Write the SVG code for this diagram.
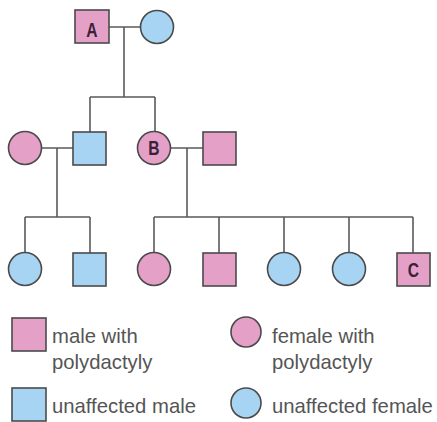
<svg xmlns="http://www.w3.org/2000/svg" width="437" height="422" viewBox="0 0 437 422">
  <style>
    .aff { fill: #e5a0c8; stroke: #4a4a4a; stroke-width: 1.6; }
    .un { fill: #a8d4f3; stroke: #4a4a4a; stroke-width: 1.6; }
    .line { fill: none; stroke: #5a5a5a; stroke-width: 1.6; }
    .tag { font-family: "Liberation Sans", Arial, sans-serif; font-weight: bold; font-size: 20px; fill: #3a2236; text-anchor: middle; }
    .key { font-family: "Liberation Sans", Arial, sans-serif; font-size: 20.3px; fill: #555555; }
  </style>
  <rect width="437" height="422" fill="#ffffff"/>

  <!-- family connectors -->
  <g id="connectors">
    <!-- generation I marriage and descent -->
    <path class="line" d="M109 27 H140 M124 27 V97 M90 97 H155 M90 97 V132 M155 97 V131"/>
    <!-- generation II marriages -->
    <path class="line" d="M42 148 H73 M57 148 V217 M171 148 H203 M187 148 V217"/>
    <!-- sibling lines, generation III -->
    <path class="line" d="M25 217 H90 M25 217 V252 M90 217 V253"/>
    <path class="line" d="M154 217 H413 M154 217 V252 M219 217 V253 M284 217 V252 M349 217 V252 M413 217 V253"/>
  </g>

  <!-- generation I -->
  <g id="nodeA">
    <rect class="aff" x="75" y="10" width="34" height="33"/>
    <text class="tag" transform="translate(92 37) scale(0.78 1)">A</text>
  </g>
  <g id="grandmother">
    <circle class="un" cx="157" cy="27" r="16.5"/>
  </g>

  <!-- generation II -->
  <g id="wife-left">
    <circle class="aff" cx="25" cy="148" r="16.5"/>
  </g>
  <g id="son">
    <rect class="un" x="73" y="132" width="33" height="33"/>
  </g>
  <g id="nodeB">
    <circle class="aff" cx="154" cy="148" r="16.5"/>
    <text class="tag" transform="translate(154 155) scale(0.78 1)">B</text>
  </g>
  <g id="husband-right">
    <rect class="aff" x="203" y="132" width="33" height="33"/>
  </g>

  <!-- generation III -->
  <g id="child1">
    <circle class="un" cx="25" cy="269" r="16.5"/>
  </g>
  <g id="child2">
    <rect class="un" x="73" y="253" width="33" height="33"/>
  </g>
  <g id="child3">
    <circle class="aff" cx="154" cy="269" r="16.5"/>
  </g>
  <g id="child4">
    <rect class="aff" x="203" y="253" width="33" height="33"/>
  </g>
  <g id="child5">
    <circle class="un" cx="284" cy="269" r="16.5"/>
  </g>
  <g id="child6">
    <circle class="un" cx="349" cy="269" r="16.5"/>
  </g>
  <g id="nodeC">
    <rect class="aff" x="397" y="253" width="33" height="33"/>
    <text class="tag" transform="translate(413.5 277) scale(0.78 1)">C</text>
  </g>

  <!-- key -->
  <g id="key">
    <rect class="aff" x="12" y="318" width="34" height="33"/>
    <text class="key" x="52" y="343">male with</text>
    <text class="key" x="52" y="369">polydactyly</text>

    <circle class="aff" cx="246" cy="332" r="15"/>
    <text class="key" x="272" y="343">female with</text>
    <text class="key" x="272" y="369">polydactyly</text>

    <rect class="un" x="12" y="388" width="34" height="33"/>
    <text class="key" x="52" y="413">unaffected male</text>

    <circle class="un" cx="246" cy="403" r="15"/>
    <text class="key" x="272" y="413">unaffected female</text>
  </g>
</svg>
